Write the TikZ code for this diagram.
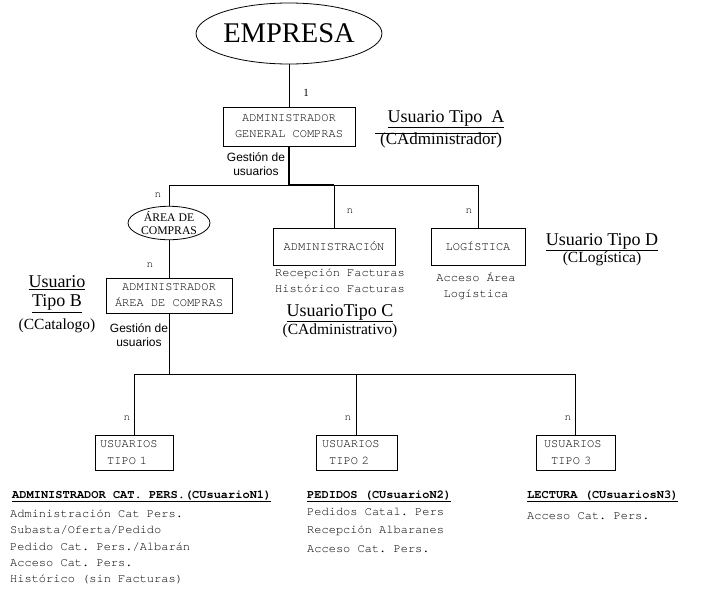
\documentclass[tikz,border=0pt]{standalone}
\usepackage{fontspec}
\setmainfont{Liberation Serif}
\setsansfont{Liberation Sans}
\setmonofont{texgyrecursor}[Extension=.otf, UprightFont=*-regular, BoldFont=*-bold]
\usetikzlibrary{shapes.geometric}

\tikzset{
  mono/.style={font=\ttfamily\fontsize{12}{16}\selectfont},
  monobold/.style={font=\ttfamily\bfseries\fontsize{12}{16}\selectfont},
  card/.style={font=\ttfamily\fontsize{11}{11}\selectfont, inner sep=1pt},
  gest/.style={font=\sffamily\fontsize{12}{14}\selectfont, align=center, inner sep=0pt},
  title/.style={font=\rmfamily\fontsize{18}{20}\selectfont, align=center, inner sep=0pt},
  subtitle/.style={font=\rmfamily\fontsize{15.5}{17}\selectfont, inner sep=0pt},
  conn/.style={line width=0.8pt},
  heavy/.style={line width=2.6pt},
  box/.style={draw, line width=0.8pt, inner sep=0pt, align=center, mono},
  userbox/.style={draw, line width=0.8pt, inner ysep=0pt, align=left,
    font=\ttfamily\fontsize{12}{17}\selectfont, minimum height=35pt},
}

\begin{document}
\begin{tikzpicture}[x=1pt, y=-1pt]
\useasboundingbox (0,0) rectangle (713,590);

% top level
\node[ellipse, draw, line width=0.8pt, minimum width=161pt, minimum height=61pt, inner sep=0pt,
      font=\rmfamily\fontsize{28.5}{30}\selectfont] (empresa) at (289,33.5) {EMPRESA};
\node[box, minimum width=132pt, minimum height=39pt] (boxA) at (289,126.5)
  {ADMINISTRADOR\\GENERAL COMPRAS};
\node[font=\rmfamily\fontsize{11}{12}\selectfont, inner sep=0pt] (one) at (306,93) {1};

\node[title] (tipoA) at (446,119) {\underline{Usuario Tipo\ \ A}};
\node[subtitle, font=\rmfamily\fontsize{17}{19}\selectfont] (cadm) at (441,140) {(CAdministrador)};
\draw[conn] (375,133) -- (498,133);

\node[gest] (gestA) at (256,164) {Gestión de\\usuarios};

% second level
\node[ellipse, draw, line width=0.8pt, minimum width=82pt, minimum height=32pt, inner sep=0pt,
      align=center, font=\rmfamily\fontsize{11.7}{13.5}\selectfont] (areaE) at (169,223)
  {ÁREA DE\\COMPRAS};
\node[box, minimum width=126pt, minimum height=35pt] (boxB) at (169,295.5)
  {ADMINISTRADOR\\ÁREA DE COMPRAS};
\node[box, minimum width=122pt, minimum height=37pt] (admin) at (334,246.5) {ADMINISTRACIÓN};
\node[box, minimum width=94pt, minimum height=37pt] (logi) at (478,246.5) {LOGÍSTICA};

\node[mono, align=center, inner sep=0pt, font=\ttfamily\fontsize{12}{15.5}\selectfont] (recep) at (340,281)
  {Recepción Facturas\\Histórico Facturas};
\node[mono, align=center, inner sep=0pt, font=\ttfamily\fontsize{12}{15.5}\selectfont] (acceso) at (476,286)
  {Acceso Área\\Logística};

\node[title, font=\rmfamily\fontsize{18}{19}\selectfont] (tipoB) at (57,294) {\underline{Usuario}\\\underline{Tipo B}};
\node[subtitle] (ccat) at (57,326) {(CCatalogo)};
\node[title] (tipoC) at (340,313) {\underline{UsuarioTipo C}};
\node[subtitle] (cadmv) at (340,331) {(CAdministrativo)};
\node[title] (tipoD) at (602,242) {\underline{Usuario Tipo D}};
\node[subtitle] (clog) at (602,259) {(CLogística)};

\node[gest] (gestB) at (139,335) {Gestión de\\usuarios};

\node[card] (nE) at (158,195) {n};
\node[card] (nB) at (150,265) {n};
\node[card] (nM) at (350,211) {n};
\node[card] (nR) at (469,211) {n};

% third level
\node[userbox, text width=68pt, inner xsep=5pt] (u1) at (134,452.5) {USUARIOS\\\hspace*{0.6em}TIPO 1};
\node[userbox, text width=69pt, inner xsep=6pt] (u2) at (356.5,452.5) {USUARIOS\\\hspace*{0.6em}TIPO 2};
\node[userbox, text width=63pt, inner xsep=8pt] (u3) at (575.5,452.5) {USUARIOS\\\hspace*{0.6em}TIPO 3};

\node[card] (n1) at (127,418) {n};
\node[card] (n2) at (348,418) {n};
\node[card] (n3) at (568,418) {n};

% connectors
\coordinate (hub)  at (289,185);
\coordinate (hubL) at (169,185);
\coordinate (hubM) at (334,185);
\coordinate (hubR) at (478,185);
\draw[conn] (empresa.south) -- (boxA.north);
\draw[conn] (areaE.north) -- (hubL) -- (hubR) -- (logi.north);
\draw[conn] (hubM) -- (admin.north);
\draw[heavy] (boxA.south) -- (hub) -- (hubM);
\draw[conn] (areaE.south) -- (boxB.north);

\coordinate (hub2)  at (169,374);
\coordinate (hub2L) at (134,374);
\coordinate (hub2M) at (356.5,374);
\coordinate (hub2R) at (575.5,374);
\draw[conn] (boxB.south) -- (hub2);
\draw[conn] (u1.north) -- (hub2L) -- (hub2R) -- (u3.north);
\draw[conn] (hub2M) -- (u2.north);

% permission lists
\node[monobold, anchor=base west, inner sep=0pt] (h1) at (12,498) {\underline{ADMINISTRADOR CAT. PERS.(CUsuarioN1)}};
\node[mono, anchor=base west, inner sep=0pt] (l11) at (10,517) {Administración Cat Pers.};
\node[mono, anchor=base west, inner sep=0pt] (l12) at (10,533) {Subasta/Oferta/Pedido};
\node[mono, anchor=base west, inner sep=0pt] (l13) at (10,550) {Pedido Cat. Pers./Albarán};
\node[mono, anchor=base west, inner sep=0pt] (l14) at (10,566) {Acceso Cat. Pers.};
\node[mono, anchor=base west, inner sep=0pt] (l15) at (10,582) {Histórico (sin Facturas)};

\node[monobold, anchor=base west, inner sep=0pt] (h2) at (307,498) {\underline{PEDIDOS (CUsuarioN2)}};
\node[mono, anchor=base west, inner sep=0pt] (l21) at (307,515.5) {Pedidos Catal. Pers};
\node[mono, anchor=base west, inner sep=0pt] (l22) at (307,533) {Recepción Albaranes};
\node[mono, anchor=base west, inner sep=0pt] (l23) at (307,552) {Acceso Cat. Pers.};

\node[monobold, anchor=base west, inner sep=0pt] (h3) at (527,498) {\underline{LECTURA (CUsuariosN3)}};
\node[mono, anchor=base west, inner sep=0pt] (l31) at (527,519) {Acceso Cat. Pers.};
\end{tikzpicture}
\end{document}
